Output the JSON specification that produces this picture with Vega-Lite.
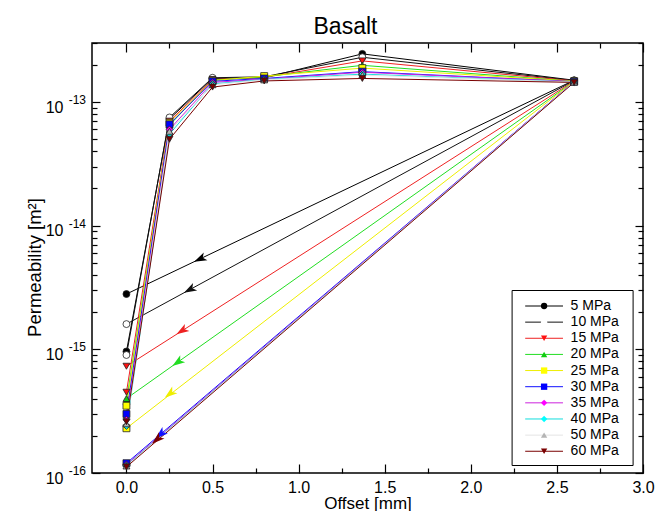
{
  "$schema": "https://vega.github.io/schema/vega-lite/v6.json",
  "width": 551,
  "height": 430,
  "autosize": {"type": "none"},
  "padding": {"left": 92, "top": 43, "right": 14, "bottom": 38},
  "background": "white",
  "config": {
    "font": "Liberation Sans",
    "view": {"stroke": "black", "strokeWidth": 1.5},
    "axis": {"labelFont": "Liberation Sans", "titleFont": "Liberation Sans", "labelColor": "black", "titleColor": "black", "tickColor": "black", "tickWidth": 1.2, "grid": false, "domain": false, "titleFontWeight": "normal"},
    "legend": {"labelFont": "Liberation Sans", "labelColor": "black"}
  },
  "title": {"text": "Basalt", "fontSize": 23, "fontWeight": "normal", "font": "Liberation Sans", "offset": 1, "dx": -22, "color": "black"},
  "datasets": {
    "perm": [
      {"p": 5, "seq": 1, "x": 0, "y": 9.6e-16}, {"p": 5, "seq": 2, "x": 0.25, "y": 7.3e-14}, {"p": 5, "seq": 3, "x": 0.5, "y": 1.55e-13}, {"p": 5, "seq": 4, "x": 0.8, "y": 1.57e-13}, {"p": 5, "seq": 5, "x": 1.37, "y": 2.45e-13}, {"p": 5, "seq": 6, "x": 2.6, "y": 1.5e-13}, {"p": 5, "seq": 7, "x": 0, "y": 2.8e-15},
      {"p": 10, "seq": 1, "x": 0, "y": 9.0e-16}, {"p": 10, "seq": 2, "x": 0.25, "y": 7.5e-14}, {"p": 10, "seq": 3, "x": 0.5, "y": 1.57e-13}, {"p": 10, "seq": 4, "x": 0.8, "y": 1.6e-13}, {"p": 10, "seq": 5, "x": 1.37, "y": 2.3e-13}, {"p": 10, "seq": 6, "x": 2.6, "y": 1.49e-13}, {"p": 10, "seq": 7, "x": 0, "y": 1.6e-15},
      {"p": 15, "seq": 1, "x": 0, "y": 4.5e-16}, {"p": 15, "seq": 2, "x": 0.25, "y": 7.0e-14}, {"p": 15, "seq": 3, "x": 0.5, "y": 1.52e-13}, {"p": 15, "seq": 4, "x": 0.8, "y": 1.58e-13}, {"p": 15, "seq": 5, "x": 1.37, "y": 2.15e-13}, {"p": 15, "seq": 6, "x": 2.6, "y": 1.48e-13}, {"p": 15, "seq": 7, "x": 0, "y": 7.3e-16},
      {"p": 20, "seq": 1, "x": 0, "y": 3.8e-16}, {"p": 20, "seq": 2, "x": 0.25, "y": 6.5e-14}, {"p": 20, "seq": 3, "x": 0.5, "y": 1.5e-13}, {"p": 20, "seq": 4, "x": 0.8, "y": 1.6e-13}, {"p": 20, "seq": 5, "x": 1.37, "y": 1.98e-13}, {"p": 20, "seq": 6, "x": 2.6, "y": 1.47e-13}, {"p": 20, "seq": 7, "x": 0, "y": 4.0e-16},
      {"p": 25, "seq": 1, "x": 0, "y": 3.5e-16}, {"p": 25, "seq": 2, "x": 0.25, "y": 6.8e-14}, {"p": 25, "seq": 3, "x": 0.5, "y": 1.49e-13}, {"p": 25, "seq": 4, "x": 0.8, "y": 1.62e-13}, {"p": 25, "seq": 5, "x": 1.37, "y": 1.88e-13}, {"p": 25, "seq": 6, "x": 2.6, "y": 1.47e-13}, {"p": 25, "seq": 7, "x": 0, "y": 2.3e-16},
      {"p": 30, "seq": 1, "x": 0, "y": 3.0e-16}, {"p": 30, "seq": 2, "x": 0.25, "y": 6.6e-14}, {"p": 30, "seq": 3, "x": 0.5, "y": 1.47e-13}, {"p": 30, "seq": 4, "x": 0.8, "y": 1.55e-13}, {"p": 30, "seq": 5, "x": 1.37, "y": 1.76e-13}, {"p": 30, "seq": 6, "x": 2.6, "y": 1.46e-13}, {"p": 30, "seq": 7, "x": 0, "y": 1.2e-16},
      {"p": 35, "seq": 1, "x": 0, "y": 2.7e-16}, {"p": 35, "seq": 2, "x": 0.25, "y": 6.0e-14}, {"p": 35, "seq": 3, "x": 0.5, "y": 1.44e-13}, {"p": 35, "seq": 4, "x": 0.8, "y": 1.53e-13}, {"p": 35, "seq": 5, "x": 1.37, "y": 1.74e-13}, {"p": 35, "seq": 6, "x": 2.6, "y": 1.46e-13}, {"p": 35, "seq": 7, "x": 0, "y": 1.17e-16},
      {"p": 40, "seq": 1, "x": 0, "y": 2.4e-16}, {"p": 40, "seq": 2, "x": 0.25, "y": 5.5e-14}, {"p": 40, "seq": 3, "x": 0.5, "y": 1.4e-13}, {"p": 40, "seq": 4, "x": 0.8, "y": 1.52e-13}, {"p": 40, "seq": 5, "x": 1.37, "y": 1.68e-13}, {"p": 40, "seq": 6, "x": 2.6, "y": 1.45e-13}, {"p": 40, "seq": 7, "x": 0, "y": 1.15e-16},
      {"p": 50, "seq": 1, "x": 0, "y": 2.5e-16}, {"p": 50, "seq": 2, "x": 0.25, "y": 5.8e-14}, {"p": 50, "seq": 3, "x": 0.5, "y": 1.38e-13}, {"p": 50, "seq": 4, "x": 0.8, "y": 1.51e-13}, {"p": 50, "seq": 5, "x": 1.37, "y": 1.65e-13}, {"p": 50, "seq": 6, "x": 2.6, "y": 1.45e-13}, {"p": 50, "seq": 7, "x": 0, "y": 1.14e-16},
      {"p": 60, "seq": 1, "x": 0, "y": 2.6e-16}, {"p": 60, "seq": 2, "x": 0.25, "y": 5.0e-14}, {"p": 60, "seq": 3, "x": 0.5, "y": 1.32e-13}, {"p": 60, "seq": 4, "x": 0.8, "y": 1.48e-13}, {"p": 60, "seq": 5, "x": 1.37, "y": 1.55e-13}, {"p": 60, "seq": 6, "x": 2.6, "y": 1.44e-13}, {"p": 60, "seq": 7, "x": 0, "y": 1.12e-16}
    ],
    "arrows": [
      {"p": 5, "x": 0.43, "y": 5.4e-15},
      {"p": 10, "x": 0.37, "y": 3.05e-15},
      {"p": 15, "x": 0.325, "y": 1.42e-15},
      {"p": 20, "x": 0.3, "y": 7.9e-16},
      {"p": 25, "x": 0.255, "y": 4.4e-16},
      {"p": 30, "x": 0.2, "y": 2.07e-16},
      {"p": 60, "x": 0.18, "y": 1.88e-16}
    ]
  },
  "resolve": {"axis": {"x": "independent", "y": "independent"}},
  "layer": [
    {
      "data": {"name": "perm"},
      "mark": {"type": "line", "strokeWidth": 1},
      "encoding": {
        "x": {"field": "x", "type": "quantitative", "scale": {"domain": [-0.2, 3.0], "nice": false, "zero": false},
          "axis": {"orient": "bottom", "title": "Offset [mm]", "titleFontSize": 17, "titlePadding": -4, "values": [0, 0.25, 0.5, 0.75, 1, 1.25, 1.5, 1.75, 2, 2.25, 2.5, 2.75, 3],
            "labelExpr": "abs(datum.value*2 - round(datum.value*2)) < 0.001 ? format(datum.value, '.1f') : ''",
            "labelFontSize": 16, "labelPadding": 15, "labelFlush": false, "labelOverlap": false,
            "tickSize": {"condition": {"test": "abs(datum.value*2 - round(datum.value*2)) < 0.001", "value": -9}, "value": -5}}},
        "y": {"field": "y", "type": "quantitative", "scale": {"type": "log", "domain": [1e-16, 3e-13], "nice": false},
          "axis": {"orient": "left", "title": "Permeability [m²]", "titleFontSize": 18.5, "titlePadding": 1, "titleY": 224,
            "values": [1e-16, 2e-16, 3e-16, 4e-16, 5e-16, 6e-16, 7e-16, 8e-16, 9e-16, 1e-15, 2e-15, 3e-15, 4e-15, 5e-15, 6e-15, 7e-15, 8e-15, 9e-15, 1e-14, 2e-14, 3e-14, 4e-14, 5e-14, 6e-14, 7e-14, 8e-14, 9e-14, 1e-13, 2e-13, 3e-13],
            "labelExpr": "abs(log(datum.value)/LN10 - round(log(datum.value)/LN10)) < 0.000001 ? '10' : ''",
            "labelFontSize": 16, "labelPadding": 37, "labelOffset": 5, "labelOverlap": false, "labelFlush": false,
            "tickSize": {"condition": {"test": "abs(log(datum.value)/LN10 - round(log(datum.value)/LN10)) < 0.000001", "value": -8}, "value": -5}}},
        "color": {"field": "p", "type": "ordinal",
          "scale": {"domain": [5, 10, 15, 20, 25, 30, 35, 40, 50, 60], "range": ["#000000", "#111111", "#ee2222", "#22dd22", "#eeee00", "#1111ff", "#cc22dd", "#11dddd", "#e4e4e4", "#7a0000"]},
          "legend": {"orient": "none", "legendX": 419.6, "legendY": 247, "title": " ", "titleFontSize": 3, "titlePadding": 0, "symbolType": "M-6.3,0H6.3", "symbolSize": 36, "symbolStrokeWidth": 1, "symbolOffset": 19.5, "labelOffset": 71, "labelFontSize": 14, "labelOpacity": 0, "labelExpr": "'.'", "padding": 6, "rowPadding": 2.14, "strokeColor": "black", "fillColor": "white", "zindex": 1}},
        "order": {"field": "seq", "type": "quantitative"}
      }
    },
    {
      "data": {"name": "perm"},
      "mark": {"type": "point", "filled": true, "size": 48, "strokeWidth": 0.8, "opacity": 1},
      "encoding": {
        "x": {"field": "x", "type": "quantitative",
          "axis": {"orient": "top", "title": null, "labels": false, "values": [0, 0.25, 0.5, 0.75, 1, 1.25, 1.5, 1.75, 2, 2.25, 2.5, 2.75, 3],
            "tickSize": {"condition": {"test": "abs(datum.value*2 - round(datum.value*2)) < 0.001", "value": -9}, "value": -5}}},
        "y": {"field": "y", "type": "quantitative",
          "axis": {"orient": "right", "title": null, "labels": false,
            "values": [1e-16, 2e-16, 3e-16, 4e-16, 5e-16, 6e-16, 7e-16, 8e-16, 9e-16, 1e-15, 2e-15, 3e-15, 4e-15, 5e-15, 6e-15, 7e-15, 8e-15, 9e-15, 1e-14, 2e-14, 3e-14, 4e-14, 5e-14, 6e-14, 7e-14, 8e-14, 9e-14, 1e-13, 2e-13, 3e-13],
            "tickSize": {"condition": {"test": "abs(log(datum.value)/LN10 - round(log(datum.value)/LN10)) < 0.000001", "value": -8}, "value": -5}}},
        "stroke": {"value": "#222222"},
        "fill": {"field": "p", "type": "ordinal",
          "scale": {"range": ["#000000", "#ffffff", "#ff1111", "#11cc11", "#ffff00", "#0000ff", "#ff00ff", "#00ffff", "#b4b4b4", "#7a0000"]},
          "legend": {"orient": "none", "legendX": 419.6, "legendY": 247, "title": " ", "titleFontSize": 3, "titlePadding": 0, "symbolSize": 40, "symbolStrokeWidth": 1, "symbolStrokeColor": "#222222", "symbolOffset": 19.5, "labelOffset": 19.5, "labelFontSize": 14, "labelExpr": "datum.label + ' MPa'", "padding": 6, "rowPadding": 2.14, "zindex": 2}},
        "shape": {"field": "p", "type": "ordinal",
          "scale": {"range": ["circle", "circle", "triangle-down", "triangle-up", "square", "square", "diamond", "diamond", "triangle-up", "triangle-down"]},
          "legend": {"orient": "none", "legendX": 419.6, "legendY": 247, "title": " ", "titleFontSize": 3, "titlePadding": 0, "symbolSize": 40, "symbolStrokeWidth": 1, "symbolStrokeColor": "#222222", "symbolOffset": 19.5, "labelOffset": 19.5, "labelFontSize": 14, "labelExpr": "datum.label + ' MPa'", "padding": 6, "rowPadding": 2.14, "zindex": 2}}
      }
    },
    {
      "data": {"name": "arrows"},
      "transform": [
        {"calculate": "-atan2((log(1.46e-13) - log(datum.y))/LN10*124.3, (2.6 - datum.x)*172.3)*180/PI", "as": "ang"}
      ],
      "mark": {"type": "point", "filled": true, "shape": "M-1,0L0.8,-0.6L0.35,0L0.8,0.6Z", "size": 200, "opacity": 1},
      "encoding": {
        "x": {"field": "x", "type": "quantitative", "axis": null},
        "y": {"field": "y", "type": "quantitative",
          "axis": {"orient": "left", "title": null, "ticks": false, "tickSize": 0, "values": [1e-16, 1e-15, 1e-14, 1e-13],
            "labelExpr": "datum.value == 1e-13 ? '-13' : datum.value == 1e-14 ? '-14' : datum.value == 1e-15 ? '-15' : '-16'",
            "labelFontSize": 12, "labelPadding": 6.5, "labelOffset": -2.5, "labelOverlap": false, "labelFlush": false}},
        "color": {"field": "p", "type": "ordinal"},
        "angle": {"field": "ang", "type": "quantitative", "scale": null}
      }
    }
  ]
}
